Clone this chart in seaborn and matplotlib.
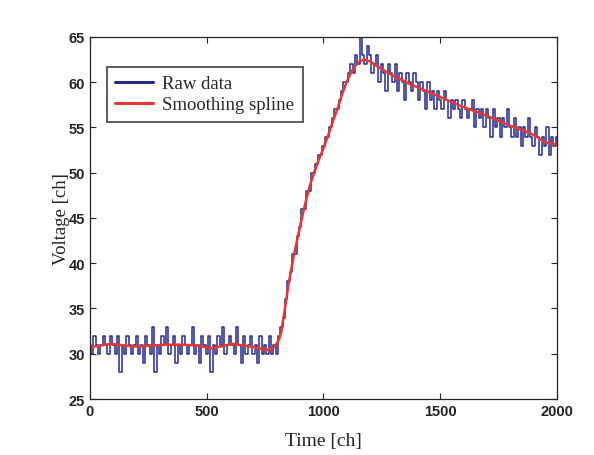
import matplotlib
matplotlib.use("Agg")
import numpy as np
import pandas as pd
import matplotlib.pyplot as plt
import seaborn as sns

# ----------------------
# Data
# ----------------------

# raw channel readings, one every 10 ch (0 .. 2000)
raw_step = 10
raw_values = [
    31, 30, 32, 31, 30, 31, 32, 31, 30, 32,
    31, 30, 32, 28, 31, 30, 32, 31, 30, 31,
    32, 30, 31, 29, 32, 31, 30, 33, 28, 31,
    30, 32, 31, 33, 30, 31, 32, 29, 31, 30,
    32, 31, 30, 31, 33, 30, 31, 29, 32, 31,
    30, 32, 28, 31, 30, 32, 31, 33, 30, 31,
    32, 31, 30, 33, 31, 29, 32, 30, 31, 32,
    30, 31, 29, 32, 30, 31, 30, 32, 30, 31,
    30, 32, 33, 34, 36, 38, 39, 41, 41, 43,
    44, 46, 46, 48, 48, 50, 50, 51, 52, 52,
    53, 54, 54, 55, 56, 57, 57, 58, 59, 60,
    60, 61, 62, 61, 63, 62, 65, 63, 62, 64,
    63, 61, 62, 63, 60, 62, 61, 59, 62, 61,
    60, 62, 59, 61, 60, 58, 61, 60, 59, 61,
    60, 58, 60, 59, 57, 60, 58, 59, 57, 59,
    58, 57, 59, 58, 56, 58, 57, 58, 57, 56,
    58, 57, 56, 57, 58, 55, 57, 56, 57, 55,
    57, 56, 54, 57, 55, 56, 54, 56, 55, 57,
    55, 54, 56, 54, 55, 53, 55, 54, 56, 54,
    53, 55, 54, 52, 54, 53, 55, 52, 54, 53,
    54,
]
raw_time = list(range(0, raw_step * len(raw_values), raw_step))

# smoothing spline, read at selected channels
spline_time = [0, 40, 90, 150, 200, 260, 330, 400, 460, 520, 560, 610, 660,
               710, 757, 790, 810, 820, 835, 850, 871, 890, 906, 925, 942,
               960, 978, 1000, 1021, 1042, 1063, 1080, 1099, 1117, 1135,
               1155, 1175, 1200, 1228, 1285, 1370, 1470, 1585, 1699, 1799,
               1884, 1956, 2000]
spline_values = [30.7, 30.9, 31.1, 30.9, 30.8, 30.9, 31.0, 31.0, 30.9, 30.6,
                 30.8, 31.1, 30.9, 30.7, 30.4, 30.7, 31.6, 32.5, 35.0, 37.6,
                 40.6, 42.9, 44.8, 46.9, 48.6, 50.0, 51.3, 52.7, 54.2, 55.8,
                 57.3, 58.7, 60.0, 61.0, 61.8, 62.3, 62.5, 62.3, 61.8, 60.9,
                 59.8, 58.7, 57.4, 56.3, 55.2, 54.4, 53.3, 53.1]

raw_df = pd.DataFrame({"Time": raw_time, "Voltage": raw_values})
spline_df = pd.DataFrame({"Time": spline_time, "Voltage": spline_values})

# ----------------------
# Plot
# ----------------------
sns.set_style("white")

fig = plt.figure(figsize=(5.94, 4.56), dpi=100)
ax = fig.add_axes([0.1515, 0.1228, 0.786, 0.794])

# raw data is quantised, so draw it as steps
sns.lineplot(data=raw_df, x="Time", y="Voltage", ax=ax, color="#25298c",
             linewidth=1.1, label="Raw data", estimator=None,
             drawstyle="steps-mid")
sns.lineplot(data=spline_df, x="Time", y="Voltage", ax=ax, color="#e8352e",
             linewidth=1.8, label="Smoothing spline", estimator=None)

ax.set_xlim(0, 2000)
ax.set_ylim(25, 65)
ax.set_xticks([0, 500, 1000, 1500, 2000])
ax.set_yticks([25, 30, 35, 40, 45, 50, 55, 60, 65])
ax.tick_params(direction="in", length=4, width=0.8, top=True, right=True,
               bottom=True, left=True, colors="#222222", labelsize=10.5)
for lab in ax.get_xticklabels() + ax.get_yticklabels():
    lab.set_fontfamily("Liberation Sans")
    lab.set_fontweight("bold")
for sp in ax.spines.values():
    sp.set_color("#222222")
    sp.set_linewidth(0.9)

ax.set_xlabel("Time [ch]", fontfamily="Liberation Serif", fontsize=14,
              color="#222222", labelpad=10)
ax.set_ylabel("Voltage [ch]", fontfamily="Liberation Serif", fontsize=13.5,
              color="#222222", labelpad=-1)

leg = ax.legend(loc="upper left", bbox_to_anchor=(0.036, 0.918),
                borderaxespad=0,
                prop={"family": "Liberation Serif", "size": 13.5},
                frameon=True, fancybox=False, handlelength=2.0,
                borderpad=0.45, labelspacing=0.2, handletextpad=0.5)
leg.get_frame().set_edgecolor("#111111")
leg.get_frame().set_linewidth(1.2)
for line in leg.get_lines():
    line.set_linewidth(2.2)

fig.savefig("out.png", dpi=100)
plt.close(fig)
